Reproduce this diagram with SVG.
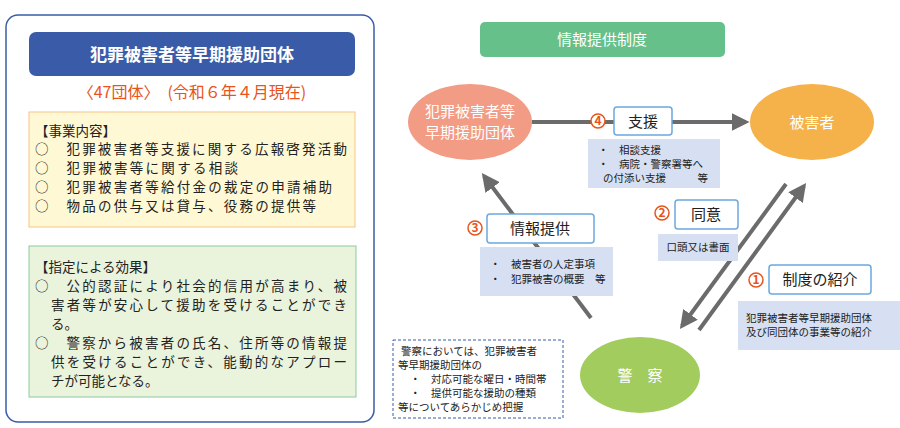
<svg xmlns="http://www.w3.org/2000/svg" width="900" height="428" viewBox="0 0 900 428">
<style>
text{font-family:"Noto Sans CJK JP","Noto Sans",sans-serif;}
.t{font-size:13.5px;fill:#222}
.l{font-size:15px;fill:#222}
.s{font-size:10.5px;fill:#222}
.lbl{fill:#fff;stroke:#6aa9e0;stroke-width:1.5}
.note{fill:#d6e0f2}
.num{fill:#fff;stroke:#e8541b;stroke-width:1.5}
.numt{font-size:12px;fill:#e8541b;font-weight:bold;text-anchor:middle}
.ar{stroke:#6b6b6b;stroke-width:4;fill:none;marker-end:url(#ah)}
</style>
<defs><marker id="ah" viewBox="0 0 10 10" refX="8" refY="5" markerWidth="4.5" markerHeight="4.5" orient="auto" markerUnits="strokeWidth"><path d="M0,0L10,5L0,10z" fill="#6b6b6b"/></marker></defs>
<rect width="900" height="428" fill="#fff"/>
<g id="left">
<rect x="6" y="15" width="368" height="407" rx="12" fill="#fff" stroke="#3a5ca8" stroke-width="1.5"/>
<rect x="29" y="32" width="326" height="44" rx="7" fill="#3a5ca8"/>
<text x="192" y="61" font-size="17" font-weight="bold" fill="#fff" text-anchor="middle">犯罪被害者等早期援助団体</text>
<text x="192" y="98" font-size="16" fill="#e8541b" text-anchor="middle">〈47団体〉　(令和６年４月現在)</text>
<rect x="29" y="112" width="326" height="115" fill="#fef9d4" stroke="#f6c48a"/>
<text class="t" x="35" y="136">【事業内容】</text>
<text class="t" x="35" y="154" textLength="312">○　犯罪被害者等支援に関する広報啓発活動</text>
<text class="t" x="35" y="173" textLength="203">○　犯罪被害等に関する相談</text>
<text class="t" x="35" y="192" textLength="297">○　犯罪被害者等給付金の裁定の申請補助</text>
<text class="t" x="35" y="211" textLength="281">○　物品の供与又は貸与、役務の提供等</text>
<rect x="29" y="246" width="327" height="151" fill="#eaf3dc" stroke="#8ccba0"/>
<text class="t" x="35" y="272">【指定による効果】</text>
<text class="t" x="35" y="291" textLength="312">○　公的認証により社会的信用が高まり、被</text>
<text class="t" x="51" y="310" textLength="296">害者等が安心して援助を受けることができ</text>
<text class="t" x="51" y="329">る。</text>
<text class="t" x="35" y="348" textLength="312">○　警察から被害者の氏名、住所等の情報提</text>
<text class="t" x="51" y="367" textLength="296">供を受けることができ、能動的なアプロー</text>
<text class="t" x="51" y="386">チが可能となる。</text>
</g>
<g id="header">
<rect x="480" y="22" width="245" height="35" rx="5" fill="#66c08a"/>
<text x="602" y="45" font-size="15" fill="#fff" text-anchor="middle">情報提供制度</text>
</g>
<g id="connectors">
<line class="ar" x1="532" y1="122" x2="746" y2="122"/>
<line class="ar" x1="591" y1="318" x2="484" y2="176"/>
<line class="ar" x1="786" y1="184" x2="682" y2="326"/>
<line class="ar" x1="699" y1="330" x2="804" y2="186"/>
</g>
<g id="org"><ellipse cx="470" cy="122" rx="62" ry="38" fill="#f29b85"/>
<text x="470" y="117" font-size="15" fill="#fff" text-anchor="middle">犯罪被害者等</text>
<text x="470" y="138" font-size="15" fill="#fff" text-anchor="middle">早期援助団体</text></g>
<g id="victim"><ellipse cx="812" cy="122" rx="62" ry="38" fill="#f5b24a"/>
<text x="812" y="128" font-size="15" fill="#fff" text-anchor="middle">被害者</text></g>
<g id="police"><ellipse cx="640" cy="375" rx="60" ry="38" fill="#a3cc5e"/>
<text x="640" y="381" font-size="15" fill="#fff" text-anchor="middle">警　察</text></g>
<g id="l4">
<circle class="num" cx="598" cy="121" r="7"/><text class="numt" x="598" y="125">4</text>
<rect class="lbl" x="614" y="107" width="58" height="28" rx="3"/>
<text class="l" x="643" y="127" text-anchor="middle">支援</text>
<rect class="note" x="588" y="139" width="132" height="49"/>
<text class="s" x="598" y="154">・　相談支援</text>
<text class="s" x="598" y="168">・　病院・警察署等へ</text>
<text class="s" x="603" y="182">の付添い支援　　　等</text>
</g>
<g id="l3">
<circle class="num" cx="475" cy="228" r="7"/><text class="numt" x="475" y="232">3</text>
<rect class="lbl" x="487" y="214" width="107" height="29" rx="3"/>
<text class="l" x="540" y="234" text-anchor="middle">情報提供</text>
<rect class="note" x="480" y="247" width="133" height="49"/>
<text class="s" x="490" y="268">・　被害者の人定事項</text>
<text class="s" x="490" y="283">・　犯罪被害の概要　等</text>
</g>
<g id="l2">
<circle class="num" cx="662" cy="213" r="7"/><text class="numt" x="662" y="217">2</text>
<rect class="lbl" x="675" y="200" width="63" height="29" rx="3"/>
<text class="l" x="706" y="220" text-anchor="middle">同意</text>
<rect class="note" x="658" y="234" width="80" height="27"/>
<text class="s" x="698" y="251" text-anchor="middle">口頭又は書面</text>
</g>
<g id="l1">
<circle class="num" cx="756" cy="280" r="7"/><text class="numt" x="756" y="284">1</text>
<rect class="lbl" x="769" y="265" width="102" height="29" rx="3"/>
<text class="l" x="820" y="285" text-anchor="middle">制度の紹介</text>
<rect class="note" x="738" y="301" width="162" height="49"/>
<text class="s" x="746" y="322">犯罪被害者等早期援助団体</text>
<text class="s" x="746" y="336">及び同団体の事業等の紹介</text>
</g>
<g id="memo">
<rect x="393" y="340" width="170" height="78" fill="#fff" stroke="#3a5ca8" stroke-dasharray="3,2"/>
<text class="s" x="401" y="355">警察においては、犯罪被害者</text>
<text class="s" x="398" y="369">等早期援助団体の</text>
<text class="s" x="410" y="383">・　対応可能な曜日・時間帯</text>
<text class="s" x="410" y="397">・　提供可能な援助の種類</text>
<text class="s" x="398" y="411">等についてあらかじめ把握</text>
</g>
</svg>
